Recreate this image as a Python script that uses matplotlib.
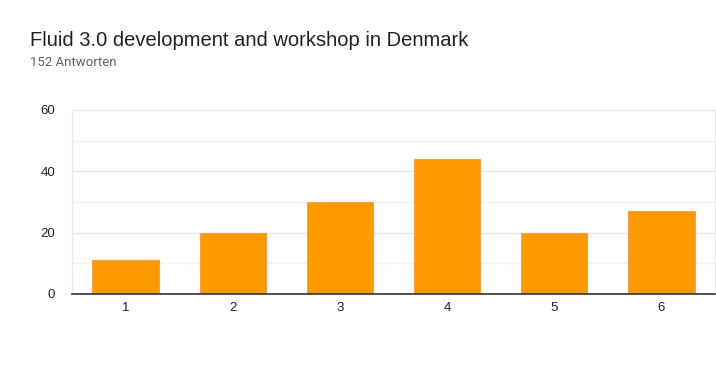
import matplotlib.pyplot as plt

categories = ["1", "2", "3", "4", "5", "6"]
counts = [11, 20, 30, 44, 20, 27]
title = "Fluid 3.0 development and workshop in Denmark"
subtitle = "152 Antworten"

plt.rcParams['font.family'] = ['Liberation Sans', 'DejaVu Sans']

fig = plt.figure(figsize=(7.16, 3.71), dpi=100)
ax = fig.add_axes([72/716, 1 - 294/371, (715-72)/716, (294-110)/371])

x = range(len(categories))
ax.bar(x, counts, width=0.62, color='#ff9900', edgecolor='#f7a24a', linewidth=0.8, zorder=3)

ax.set_xlim(-0.5, len(categories) - 0.5)
ax.set_ylim(0, 60)
ax.set_yticks([0, 20, 40, 60])
ax.set_yticks([10, 30, 50], minor=True)
ax.set_xticks(list(x))
ax.set_xticklabels(categories)
ax.grid(axis='y', which='major', color='#e6e6e6', linewidth=1, zorder=0)
ax.grid(axis='y', which='minor', color='#f2f2f2', linewidth=1, zorder=0)
ax.tick_params(axis='both', which='both', length=0, labelsize=9.5, colors='#222222')
ax.tick_params(axis='y', pad=12)
ax.tick_params(axis='x', pad=6)

for s in ['top', 'right', 'left']:
    ax.spines[s].set_color('#ebebeb')
    ax.spines[s].set_linewidth(1)
ax.spines['top'].set_visible(False)
ax.spines['bottom'].set_color('#333333')
ax.spines['bottom'].set_linewidth(1.2)
ax.spines['bottom'].set_zorder(4)

fig.text(30/716, 1 - 40/371, title, fontsize=14.5, color='#212121', va='center', ha='left')
fig.text(30/716, 1 - 62/371, subtitle, fontsize=9.5, color='#5f6368', va='center', ha='left',
         family=['Roboto', 'DejaVu Sans'])

fig.savefig("out.png", dpi=100)
